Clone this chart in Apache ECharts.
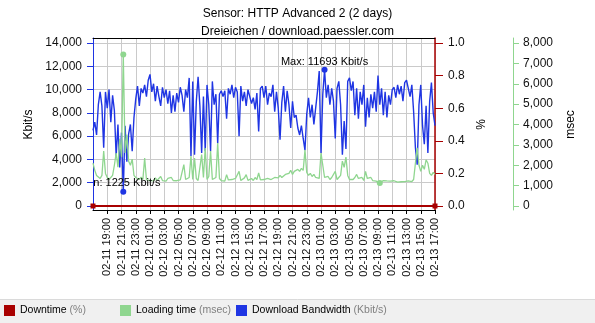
<!DOCTYPE html>
<html><head><meta charset="utf-8">
<script src="https://cdn.jsdelivr.net/npm/echarts@6/dist/echarts.min.js"></script>
<style>html,body{margin:0;padding:0;background:#fff}#c{width:595px;height:323px}</style>
</head><body><div id="c"></div>
<script>
const FONT = '"Liberation Sans", Arial, sans-serif';
const BLUE = '#1f35e3', GREEN = '#8fd68f', RED = '#a80000';

const titleLines = ['Sensor: HTTP Advanced 2 (2 days)', 'Dreieichen / download.paessler.com'];
const stepHours = 0.25; // one sample every 15 minutes, from 02-11 17:00

const bandwidth = [
6500,7200,6100,8700,9800,8600,5000,9800,8400,10000,7200,9500,8200,4300,7000,3300,6300,1225,6900,3800,6200,7000,4700,7600,
9200,10300,8600,10100,9700,10400,9400,10800,11300,9800,10500,9000,10300,9400,8600,10200,9300,10000,8800,9900,8000,9500,8100,9700,
8900,10200,9500,8100,10000,9300,11000,4300,10700,4400,9000,11100,8600,4550,9400,4700,10400,8700,4700,10700,8700,9600,5400,9600,
9900,9400,9900,7500,10100,9600,10400,9300,10200,9800,6000,10300,9000,9800,8600,10000,10100,8800,9300,8300,9700,6400,10100,10300,
9300,10300,8700,9700,9400,10400,8100,9800,8400,5700,8900,10300,8100,9900,8700,6700,9000,7600,7800,6700,6100,6900,5800,4800,
7900,9300,7600,8700,7000,8400,9800,11600,4550,9600,11693,9300,10400,8700,10100,9000,5800,10100,10700,8700,4400,7300,4900,10700,
11000,9900,10700,7800,10100,7500,9800,8700,10400,6800,9300,7600,9600,8400,9800,8100,11200,8700,10100,7800,9800,7600,9500,8700,
10000,10200,9300,10400,9600,10300,9000,10600,10800,10100,9400,10400,8100,5000,3550,8700,10400,6900,5300,8600,4550,9000,10600,8000,
6900];

const loadingTime = [
2100,1750,1500,1420,1350,1500,2700,1600,1400,1300,1380,1500,2000,2600,1900,3300,2400,7430,2600,3500,2200,2000,2300,1500,
1400,1350,1300,1420,1300,2350,1300,1350,1250,1300,1230,1380,1260,1320,1450,1250,1300,1220,1350,1270,1400,1250,1330,1240,
1300,1280,1350,2030,1300,1250,1400,2450,1300,2350,1350,1250,1300,2520,1400,2850,1300,1450,2700,1300,1350,1400,3090,1350,
1250,1300,1220,1540,1280,1230,1300,1250,1350,1280,1700,1250,1300,1380,1540,1260,1300,1350,1250,1400,1300,1620,1280,1230,
1300,1250,1350,1280,1300,1250,1400,1320,1380,1500,1400,1450,1550,1480,1600,1750,1550,1700,1650,1800,1700,1850,1750,2750,
1650,1500,1600,1450,1550,1400,1450,1350,2600,2000,1400,1350,1450,1300,1400,1350,1700,1300,1350,1500,2200,1900,2400,1500,
1300,1250,1300,1400,1550,1350,1300,1400,1250,1700,1350,1300,1400,1250,1300,1220,1260,1130,1200,1250,1180,1230,1190,1220,
1180,1240,1200,1170,1230,1190,1250,1200,1180,1230,1260,1200,1300,2100,2850,2000,1700,2000,1800,2270,2100,1600,1500,1650,
1550];

const downtime = [0, 0];
const downtimeHours = [0, 48];

const xTickLabels = ['02-11 17:00','02-11 19:00','02-11 21:00','02-11 23:00',
 '02-12 01:00','02-12 03:00','02-12 05:00','02-12 07:00','02-12 09:00','02-12 11:00',
 '02-12 13:00','02-12 15:00','02-12 17:00','02-12 19:00','02-12 21:00','02-12 23:00',
 '02-13 01:00','02-13 03:00','02-13 05:00','02-13 07:00','02-13 09:00','02-13 11:00',
 '02-13 13:00','02-13 15:00','02-13 17:00'];

const legendUnits = {'Downtime':'(%)','Loading time':'(msec)','Download Bandwidth':'(Kbit/s)'};

const fmtThousands = v => Math.round(v).toLocaleString('en-US');

const chart = echarts.init(document.getElementById('c'), null, {renderer:'canvas'});

function legendFor(name, left) {
  return {
    data: [name], left: left, top: 305, orient: 'horizontal',
    icon: 'rect', itemWidth: 11, itemHeight: 11, z: 10,
    padding: 0,
    formatter: n => '{n|' + n + '} {u|' + legendUnits[n] + '}',
    textStyle: {fontFamily: FONT, fontSize: 10.5, color: '#000',
      rich: {n: {fontFamily: FONT, fontSize: 10.5, color: '#000'}, u: {fontFamily: FONT, fontSize: 10.5, color: '#808080'}}}
  };
}

const axisNameStyle = {fontFamily: FONT, fontSize: 12, color: '#000'};
const axisLabelStyle = {fontFamily: FONT, fontSize: 12, color: '#111'};

chart.setOption({
  animation: false,
  backgroundColor: '#fff',
  title: {
    text: titleLines.join('\n'), left: 'center', top: 0,
    textStyle: {fontFamily: FONT, fontSize: 12, fontWeight: 'normal', color: '#000', lineHeight: 18}
  },
  graphic: [
    {type: 'rect', z: 0, shape: {x: 0, y: 299, width: 595, height: 24}, style: {fill: '#f0f0f0'}},
    {type: 'line', z: 0, shape: {x1: 0, y1: 299.5, x2: 595, y2: 299.5}, style: {stroke: '#dadada', lineWidth: 1}}
  ],
  legend: [legendFor('Downtime', 4), legendFor('Loading time', 120), legendFor('Download Bandwidth', 236)],
  grid: [
    {left: 93, right: 160, top: 43, bottom: 117, outerBoundsMode: 'none', containLabel: false},
    {left: 93, right: 160, top: 38, bottom: 113, outerBoundsMode: 'none', containLabel: false}
  ],
  xAxis: [
    {type: 'value', gridIndex: 0, min: 0, max: 48, show: false},
    {type: 'value', gridIndex: 1, min: 0, max: 48, interval: 2, position: 'bottom',
      axisLine: {show: true, onZero: false, lineStyle: {color: '#000', width: 1}},
      axisTick: {show: true, length: 4, lineStyle: {color: '#000'}},
      axisLabel: {rotate: 90, margin: 8, fontFamily: FONT, fontSize: 11, color: '#111', showMinLabel: false,
        formatter: v => xTickLabels[Math.round(v / 2)]},
      splitLine: {show: true, lineStyle: {color: '#cacaca', width: 1}}},
    {type: 'value', gridIndex: 1, min: 0, max: 48, position: 'top',
      axisLine: {show: true, onZero: false, lineStyle: {color: '#000', width: 1}},
      axisTick: {show: false}, axisLabel: {show: false}, splitLine: {show: false}}
  ],
  yAxis: [
    {type: 'value', gridIndex: 0, position: 'left', min: 0, max: 14000, interval: 2000,
      axisLine: {show: false}, axisTick: {show: true, length: 6, lineStyle: {color: BLUE}},
      axisLabel: Object.assign({margin: 11, formatter: fmtThousands}, axisLabelStyle),
      splitLine: {show: true, lineStyle: {color: '#cacaca', width: 1}},
      name: 'Kbit/s', nameLocation: 'middle', nameRotate: 90, nameGap: 54, nameTextStyle: axisNameStyle},
    {type: 'value', gridIndex: 0, position: 'right', min: 0, max: 1, interval: 0.2,
      axisLine: {show: false}, axisTick: {show: true, length: 8, lineStyle: {color: RED}},
      axisLabel: Object.assign({margin: 13, formatter: v => v.toFixed(1)}, axisLabelStyle),
      splitLine: {show: false},
      name: '%', nameLocation: 'middle', nameRotate: 90, nameGap: 38, nameTextStyle: axisNameStyle},
    {type: 'value', gridIndex: 0, position: 'right', offset: 78, min: 0, max: 8000, interval: 1000,
      axisLine: {show: false}, axisTick: {show: true, length: 6, lineStyle: {color: GREEN}},
      axisLabel: Object.assign({margin: 10, formatter: fmtThousands}, axisLabelStyle),
      splitLine: {show: false},
      name: 'msec', nameLocation: 'middle', nameRotate: 90, nameGap: 52, nameTextStyle: axisNameStyle},
    {type: 'value', gridIndex: 1, position: 'left', min: 0, max: 1,
      axisLine: {show: true, onZero: false, lineStyle: {color: BLUE, width: 1}},
      axisTick: {show: false}, axisLabel: {show: false}, splitLine: {show: false}},
    {type: 'value', gridIndex: 1, position: 'right', min: 0, max: 1,
      axisLine: {show: true, onZero: false, lineStyle: {color: RED, width: 1.5}},
      axisTick: {show: false}, axisLabel: {show: false}, splitLine: {show: false}},
    {type: 'value', gridIndex: 1, position: 'right', offset: 78, min: 0, max: 1,
      axisLine: {show: true, onZero: false, lineStyle: {color: GREEN, width: 1}},
      axisTick: {show: false}, axisLabel: {show: false}, splitLine: {show: false}}
  ],
  series: [
    {name: 'Download Bandwidth', type: 'line', xAxisIndex: 0, yAxisIndex: 0,
      data: bandwidth.map((v, i) => [i * stepHours, v]),
      showSymbol: false, clip: false, color: BLUE,
      lineStyle: {width: 1.4, color: BLUE}, itemStyle: {color: BLUE},
      markPoint: {symbol: 'circle', symbolSize: 6, itemStyle: {color: BLUE},
        data: [
          {type: 'max', label: {show: true, position: 'inside', offset: [0, -8], fontFamily: FONT, fontSize: 11, color: '#000',
            formatter: p => 'Max: ' + p.value + ' Kbit/s'}},
          {type: 'min', label: {show: true, position: 'inside', align: 'left', offset: [-30, -9], fontFamily: FONT, fontSize: 11, color: '#000',
            formatter: p => 'n: ' + p.value + ' Kbit/s'}}
        ]}},
    {name: 'Loading time', type: 'line', xAxisIndex: 0, yAxisIndex: 2,
      data: loadingTime.map((v, i) => [i * stepHours, v]),
      showSymbol: false, clip: false, color: GREEN,
      lineStyle: {width: 1.3, color: GREEN}, itemStyle: {color: GREEN},
      markPoint: {symbol: 'circle', symbolSize: 6, itemStyle: {color: GREEN}, label: {show: false},
        data: [{type: 'max'}, {type: 'min'}]}},
    {name: 'Downtime', type: 'line', xAxisIndex: 0, yAxisIndex: 1,
      data: downtime.map((v, i) => [downtimeHours[i], v]),
      showSymbol: true, symbol: 'rect', symbolSize: 5, clip: false, color: RED,
      lineStyle: {width: 2, color: RED}, itemStyle: {color: RED}}
  ]
});
</script></body></html>
